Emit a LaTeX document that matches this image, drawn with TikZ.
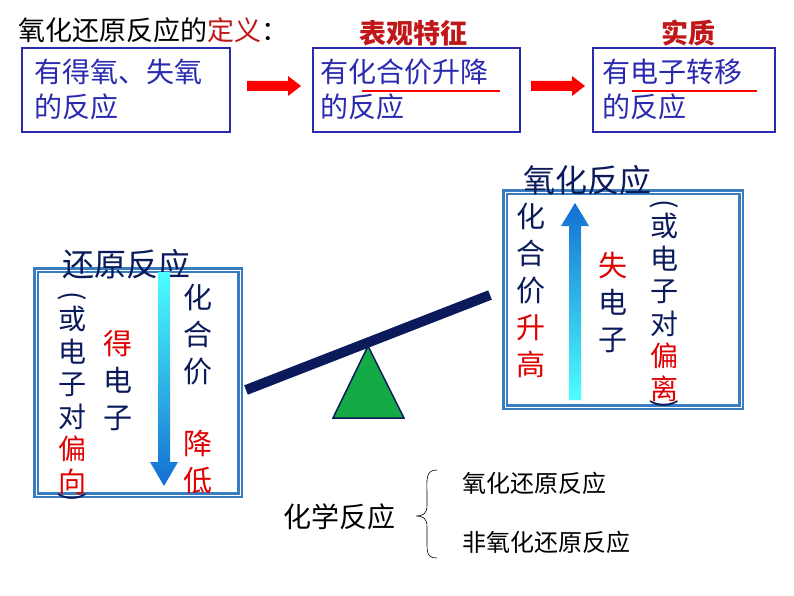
\documentclass[tikz,border=0pt]{standalone}
\usepackage{fontspec}
\setmainfont{Noto Sans CJK SC}
\definecolor{navy}{HTML}{0A1A5A}
\definecolor{bbox}{HTML}{2A2AB0}
\definecolor{dred}{HTML}{C01818}
\definecolor{lbox}{HTML}{3A7CC0}
\definecolor{rred}{HTML}{E00000}
\begin{document}
\begin{tikzpicture}[x=1pt,y=-1pt,
  topbox/.style={draw=bbox,line width=1.6pt,inner sep=0pt},
  toptext/.style={anchor=north west,text=bbox,font=\fontsize{28}{35}\selectfont,align=left,inner sep=0pt},
  col/.style={text=navy,font=\fontsize{29}{37}\selectfont,align=center,inner sep=0pt,anchor=north},
  bcol/.style={text=navy,font=\fontsize{28}{32.5}\selectfont,align=center,inner sep=0pt,anchor=north},
  brk/.style={text=navy,font=\fontsize{28}{30}\selectfont,inner sep=0pt,rotate=-90},
  sbox/.style={draw=lbox,line width=2.5pt,double=white,double distance=1pt}]
\useasboundingbox (0,0) rectangle (794,596);
% title
\node[anchor=west,inner sep=0pt,font=\fontsize{27}{30}\selectfont] (title) at (18,30) {氧化还原反应的\textcolor{dred}{定义}：};
% top boxes
\draw[topbox] (22,48) rectangle (230,132);
\node[toptext] (t1) at (34,59) {有得氧、失氧\\的反应};
\draw[topbox] (313,48) rectangle (520,132);
\node[toptext] (t2) at (320,59) {有化合价升降\\的反应};
\draw[topbox] (593,48) rectangle (775,132);
\node[toptext] (t3) at (602,59) {有电子转移\\的反应};
\draw[red,line width=1.5pt] (362,91) -- (500,91);
\draw[red,line width=1.5pt] (632,91) -- (757,91);
\node[text=dred,font=\bfseries\fontsize{27}{30}\selectfont] (l2) at (413,33) {表观特征};
\node[text=dred,font=\bfseries\fontsize{27}{30}\selectfont] (l3) at (688,33) {实质};
\fill[red] (247,81) -- (288,81) -- (288,76) -- (301,86) -- (288,96) -- (288,91) -- (247,91) -- cycle;
\fill[red] (531,81) -- (572,81) -- (572,76) -- (585,86) -- (572,96) -- (572,91) -- (531,91) -- cycle;
% seesaw
\draw[navy,line width=10pt] (246,390) -- (490,295);
\draw[fill={rgb,255:red,20;green,170;blue,70},draw=navy,line width=1.5pt] (368,346) -- (404,418) -- (333,418) -- cycle;
% left box
\draw[sbox] (36,270) rectangle (240,495);
\node[anchor=south west,text=navy,font=\fontsize{32}{34}\selectfont,inner sep=0pt] (lt) at (62,279) {还原反应};
\shade[top color=cyan!70,bottom color={rgb,255:red,20;green,110;blue,210}] (158,272) -- (170,272) -- (170,462) -- (178,462) -- (164,486) -- (150,462) -- (158,462) -- cycle;
\node[brk] (lb1) at (72,296) {(};
\node[bcol] (lc1) at (72,306) {或\\电\\子\\对\\\textcolor{rred}{偏}\\\textcolor{rred}{向}};
\node[brk] (lb2) at (72,497) {)};
\node[col] (lc2) at (118,330) {\textcolor{rred}{得}\\电\\子};
\node[col] (lc3) at (198,284) {化\\合\\价};
\node[col] (lc4) at (198,430) {\textcolor{rred}{降}\\\textcolor{rred}{低}};
% right box
\draw[sbox] (505,192) rectangle (741,407);
\node[anchor=south west,text=navy,font=\fontsize{32}{34}\selectfont,inner sep=0pt] (rt) at (523,195) {氧化反应};
\shade[top color={rgb,255:red,20;green,110;blue,210},bottom color=cyan!70] (569,400) -- (581,400) -- (581,226) -- (589,226) -- (575,203) -- (561,226) -- (569,226) -- cycle;
\node[col] (rc1) at (531,203) {化\\合\\价\\\textcolor{rred}{升}\\\textcolor{rred}{高}};
\node[col] (rc2) at (613,252) {\textcolor{rred}{失}\\电\\子};
\node[brk] (rb1) at (664,204) {(};
\node[bcol] (rc3) at (664,213) {或\\电\\子\\对\\\textcolor{rred}{偏}\\\textcolor{rred}{离}};
\node[brk] (rb2) at (664,404) {)};
% bottom
\node[anchor=west,inner sep=0pt,font=\fontsize{28}{30}\selectfont] (cr) at (283,517) {化学反应};
\node[anchor=west,inner sep=0pt,font=\fontsize{24}{26}\selectfont] (o1) at (462,483) {氧化还原反应};
\node[anchor=west,inner sep=0pt,font=\fontsize{24}{26}\selectfont] (o2) at (462,542) {非氧化还原反应};
\draw[line width=0.6pt] (437,470) .. controls (425,470) and (427,480) .. (427,495) -- (427,505) .. controls (427,514) and (423,516) .. (416,516) .. controls (423,516) and (427,518) .. (427,527) -- (427,545) .. controls (427,556) and (430,558) .. (437,558);
\end{tikzpicture}
\end{document}
